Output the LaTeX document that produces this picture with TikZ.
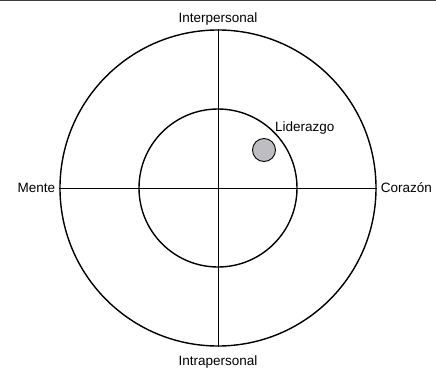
\documentclass[tikz,border=0pt]{standalone}
\usepackage{fontspec}
\setmainfont{Liberation Sans}
\usepackage{xcolor}
\usepackage{tikz}
\usetikzlibrary{positioning}

\definecolor{dotgray}{RGB}{190,190,194}
\definecolor{rulegray}{RGB}{60,60,60}

\begin{document}
\begin{tikzpicture}[
    x=1pt, y=1pt,
    ring/.style={draw, circle, line width=1.4pt},
    axis/.style={line width=0.7pt},
    lbl/.style={font=\fontsize{13.5}{15}\selectfont, inner sep=1pt}
]
    \useasboundingbox (-218,-184) rectangle (218,188);
    \draw[rulegray, line width=1.5pt] (-218,187.5) -- (218,187.5);

    % Rings
    \node[ring, minimum size=316pt] (outer) at (0,0) {};
    \node[ring, minimum size=158pt] (inner) at (0,0) {};

    % Axes
    \draw[axis] (outer.north) -- (outer.south);
    \draw[axis] (outer.west) -- (outer.east);

    % Labels
    \node[lbl, above=3pt of outer.north] (inter) {Interpersonal};
    \node[lbl, below=8pt of outer.south] (intra) {Intrapersonal};
    \node[lbl, left=3pt of outer.west] (mente) {Mente};
    \node[lbl, right=3pt of outer.east] (corazon) {Corazón};

    % Leader
    \node[draw, circle, fill=dotgray, line width=0.9pt, minimum size=23pt, inner sep=0pt] (dot) at (46,38) {};
    \node[lbl, anchor=south west] (lider) at (56,52) {Liderazgo};
\end{tikzpicture}
\end{document}
